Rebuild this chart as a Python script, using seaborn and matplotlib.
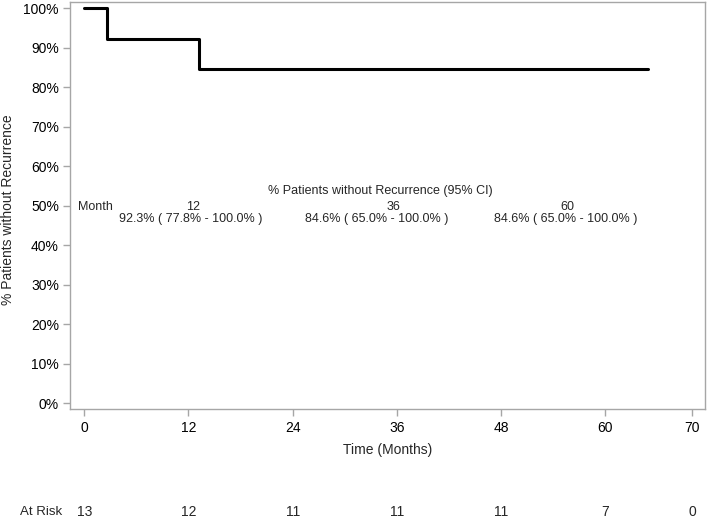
import numpy as np
import pandas as pd
import matplotlib
matplotlib.use("Agg")
import matplotlib.pyplot as plt
import seaborn as sns

# Kaplan-Meier step data (months, % without recurrence)
times = [0, 2.6, 13.2, 64.9]
survival = [100, 92.3, 84.6, 84.6]

# summary table
table_months = [12, 36, 60]
table_est = [92.3, 84.6, 84.6]
table_low = [77.8, 65.0, 65.0]
table_high = [100.0, 100.0, 100.0]

# number at risk
risk_months = [0, 12, 24, 36, 48, 60, 70]
risk_counts = [13, 12, 11, 11, 11, 7, 0]

sns.set_style("white")
plt.rcParams["font.family"] = ["Liberation Sans", "DejaVu Sans"]
plt.rcParams["font.size"] = 9

df = pd.DataFrame({"Time": times, "Survival": survival})

fig = plt.figure(figsize=(7.09, 5.19), dpi=100)
ax = fig.add_axes([70 / 709, 110 / 519, 635 / 709, 407 / 519])

sns.lineplot(data=df, x="Time", y="Survival", drawstyle="steps-post",
             color="black", linewidth=2.2, ax=ax)

ax.set_xlim(-1.65, 71.5)
ax.set_ylim(-1.45, 101.6)
ax.set_xticks(risk_months)
ax.set_yticks(range(0, 101, 10))
ax.set_yticklabels([f"{v}%" for v in range(0, 101, 10)])

for s in ax.spines.values():
    s.set_color("#a6a6a6")
    s.set_linewidth(1)
ax.tick_params(axis="both", direction="out", length=5, width=1, color="#a6a6a6",
               labelsize=10, labelcolor="black", bottom=True, left=True)
ax.tick_params(axis="x", pad=4)
ax.tick_params(axis="y", pad=3)

ax.set_xlabel("Time (Months)", fontsize=10)
ax.set_ylabel("% Patients without Recurrence", fontsize=10)
ax.xaxis.set_label_coords(0.5, -(450 - 409) / 407, transform=ax.transAxes)
ax.yaxis.set_label_coords(-(70 - 8) / 635, 0.49, transform=ax.transAxes)
ax.xaxis.label.set_va("center")
ax.yaxis.label.set_va("center")

# table inside the plot
ax.text(34.1, 53.8, "% Patients without Recurrence (95% CI)", ha="center", va="center", fontsize=9)
ax.text(-0.75, 49.8, "Month", ha="left", va="center", fontsize=9)
head_x = [12.5, 35.6, 55.7]
val_x = [12.2, 33.7, 55.4]
for m, est, lo, hi, hx, vx in zip(table_months, table_est, table_low, table_high, head_x, val_x):
    ax.text(hx, 49.8, str(m), ha="center", va="center", fontsize=9)
    ax.text(vx, 46.6, f"{est:.1f}% ( {lo:.1f}% - {hi:.1f}% )", ha="center", va="center", fontsize=9)

# at risk row
trans = ax.get_xaxis_transform()
y_risk = -(512 - 409) / 407
ax.text(-5.0, y_risk, "At Risk", ha="center", va="center", fontsize=9.5, transform=trans, clip_on=False)
for m, c in zip(risk_months, risk_counts):
    ax.text(m, y_risk, str(c), ha="center", va="center", fontsize=10, transform=trans, clip_on=False)

fig.savefig("out.png", dpi=100)
